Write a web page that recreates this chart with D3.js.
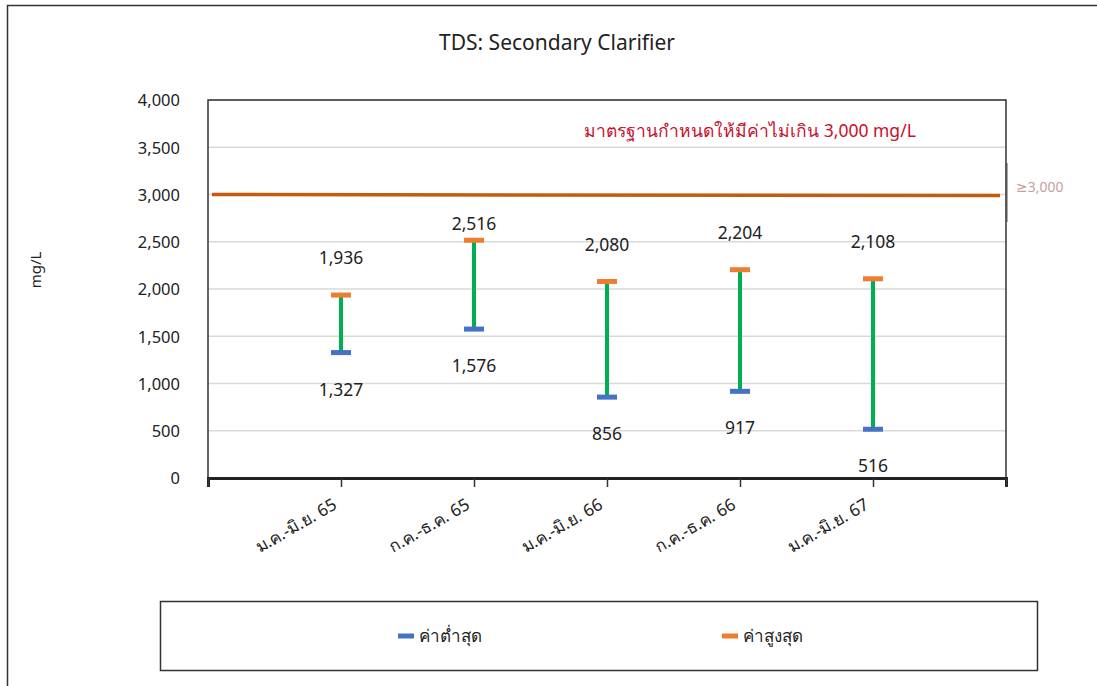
<!DOCTYPE html>
<html>
<head>
<meta charset="utf-8">
<script src="https://cdnjs.cloudflare.com/ajax/libs/d3/7.8.5/d3.min.js"></script>
<style>
  body { margin: 0; background: #fff; }
  svg text { font-family: "Noto Sans", "DejaVu Sans", sans-serif; fill: #222; }
</style>
</head>
<body>
<script>
// ข้อมูล
var categories = ["ม.ค.-มิ.ย. 65", "ก.ค.-ธ.ค. 65", "ม.ค.-มิ.ย. 66", "ก.ค.-ธ.ค. 66", "ม.ค.-มิ.ย. 67"];
var minValues = [1327, 1576, 856, 917, 516];
var maxValues = [1936, 2516, 2080, 2204, 2108];
var yTicks = [0, 500, 1000, 1500, 2000, 2500, 3000, 3500, 4000];
var limitValue = 3000;
var seriesNames = ["ค่าต่ำสุด", "ค่าสูงสุด"];

var W = 1097, H = 686;
var pLeft = 208, pRight = 1006, pTop = 100, pBottom = 478;

var svg = d3.select("body").append("svg")
  .attr("width", W).attr("height", H);

// กรอบนอก
svg.append("rect").attr("x", 7.5).attr("y", 5.5)
  .attr("width", W + 10).attr("height", H + 10)
  .attr("fill", "none").attr("stroke", "#333").attr("stroke-width", 1.5);

var y = d3.scaleLinear().domain([0, 4000]).range([pBottom, pTop]);
// ตำแหน่งหมวดหมู่ 1..5 ระหว่างขอบ 0..6
var x = d3.scaleLinear().domain([0, categories.length + 1]).range([pLeft, pRight]);

// เส้นกริด
svg.append("g").selectAll("line").data(yTicks.slice(1)).enter().append("line")
  .attr("x1", pLeft).attr("x2", pRight)
  .attr("y1", function(d){ return y(d); }).attr("y2", function(d){ return y(d); })
  .attr("stroke", "#d9d9d9").attr("stroke-width", 1.5);

// แกน y
var yAxis = svg.append("g").attr("transform", "translate(" + (pLeft - 25) + ",0)")
  .call(d3.axisLeft(y).tickValues(yTicks).tickSize(0).tickFormat(d3.format(",")));
yAxis.select(".domain").remove();
yAxis.selectAll("text").style("font-size", "16.5px").attr("dy", "0.35em");

// กรอบพื้นที่กราฟ
svg.append("rect").attr("x", pLeft).attr("y", pTop)
  .attr("width", pRight - pLeft).attr("height", pBottom - pTop)
  .attr("fill", "none").attr("stroke", "#333").attr("stroke-width", 1.5);

// แกน x
var xTickIdx = d3.range(0, categories.length + 2);
var xAxis = svg.append("g").attr("transform", "translate(0," + pBottom + ")")
  .call(d3.axisBottom(x).tickValues(xTickIdx).tickSize(9).tickFormat(""));
xAxis.select(".domain").attr("stroke", "#222").attr("stroke-width", 3);
xAxis.selectAll(".tick line").attr("stroke", "#333").attr("stroke-width", 1.5);

svg.append("g").selectAll("text").data(categories).enter().append("text")
  .attr("transform", function(d, i){
    return "translate(" + (x(i + 1) - 3) + "," + (pBottom + 30) + ") rotate(-30)";
  })
  .attr("text-anchor", "end")
  .style("font-size", "17px")
  .text(function(d){ return d; });

// เส้นมาตรฐาน
svg.append("line")
  .attr("x1", pLeft + 4).attr("x2", pRight - 6)
  .attr("y1", y(limitValue)).attr("y2", y(limitValue) + 1)
  .attr("stroke", "#c55a11").attr("stroke-width", 3.5);

svg.append("text").attr("x", 750).attr("y", y(limitValue) - 64)
  .attr("text-anchor", "middle").attr("dy", "0.35em")
  .style("font-size", "17.5px").style("fill", "#c8102e")
  .text("มาตรฐานกำหนดให้มีค่าไม่เกิน 3,000 mg/L");

// ป้ายเล็กด้านขวา
svg.append("line").attr("x1", pRight + 0.5).attr("x2", pRight + 0.5)
  .attr("y1", 163).attr("y2", 222).attr("stroke", "#555").attr("stroke-width", 2);
svg.append("text").attr("x", pRight + 10).attr("y", y(limitValue) - 7)
  .attr("dy", "0.35em")
  .style("font-size", "14px").style("fill", "#b88").style("opacity", 0.8)
  .text("≥3,000");

// ช่วงค่าต่ำสุด-สูงสุด
var idx = d3.range(categories.length);
svg.append("g").selectAll("line").data(idx).enter().append("line")
  .attr("x1", function(i){ return x(i + 1); }).attr("x2", function(i){ return x(i + 1); })
  .attr("y1", function(i){ return y(minValues[i]); })
  .attr("y2", function(i){ return y(maxValues[i]); })
  .attr("stroke", "#00b050").attr("stroke-width", 4);

function markers(vals, color) {
  svg.append("g").selectAll("rect").data(vals).enter().append("rect")
    .attr("x", function(d, i){ return x(i + 1) - 10; })
    .attr("y", function(d){ return y(d) - 2.5; })
    .attr("width", 20).attr("height", 5)
    .attr("fill", color);
}
markers(minValues, "#4472c4");
markers(maxValues, "#ed7d31");

var fmt = d3.format(",");
// ป้ายค่าสูงสุด (หลบเส้นมาตรฐาน)
svg.append("g").selectAll("text").data(maxValues).enter().append("text")
  .attr("x", function(d, i){ return x(i + 1); })
  .attr("y", function(d){ return Math.max(y(d) - 37, y(limitValue) + 29); })
  .attr("text-anchor", "middle").attr("dy", "0.35em")
  .style("font-size", "17.5px")
  .text(function(d){ return fmt(d); });
// ป้ายค่าต่ำสุด
svg.append("g").selectAll("text").data(minValues).enter().append("text")
  .attr("x", function(d, i){ return x(i + 1); })
  .attr("y", function(d){ return y(d) + 37; })
  .attr("text-anchor", "middle").attr("dy", "0.35em")
  .style("font-size", "17.5px")
  .text(function(d){ return fmt(d); });

// ชื่อกราฟ
svg.append("text").attr("x", 557).attr("y", 43)
  .attr("text-anchor", "middle").attr("dy", "0.35em")
  .style("font-size", "21px")
  .text("TDS: Secondary Clarifier");

svg.append("text")
  .attr("transform", "translate(36,270) rotate(-90)")
  .attr("text-anchor", "middle").attr("dy", "0.35em")
  .style("font-size", "15px")
  .text("mg/L");

// คำอธิบาย
svg.append("rect").attr("x", 160.5).attr("y", 601.5)
  .attr("width", 877).attr("height", 69)
  .attr("fill", "none").attr("stroke", "#333").attr("stroke-width", 1.5);
var legendX = [398, 722];
var legendColors = ["#4472c4", "#ed7d31"];
var lg = svg.append("g").selectAll("g").data(seriesNames).enter().append("g")
  .attr("transform", function(d, i){ return "translate(" + legendX[i] + ",636)"; });
lg.append("rect").attr("x", 0).attr("y", -2.5).attr("width", 16).attr("height", 5)
  .attr("fill", function(d, i){ return legendColors[i]; });
lg.append("text").attr("x", 21).attr("dy", "0.35em")
  .style("font-size", "17px")
  .text(function(d){ return d; });
</script>
</body>
</html>
